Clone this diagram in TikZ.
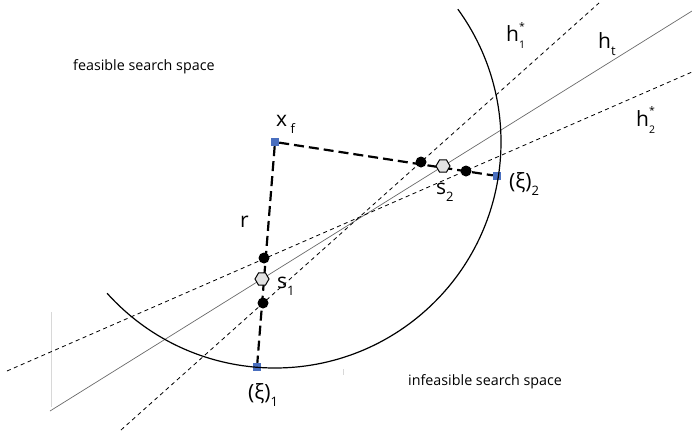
\documentclass[tikz,border=0pt]{standalone}
\usepackage{fontspec}
\setmainfont{Open Sans}
\usetikzlibrary{shapes.geometric}
\definecolor{pointBlue}{HTML}{4A6FBF}
\definecolor{hexGrey}{HTML}{E2E2E2}
\definecolor{lineGrey}{HTML}{6A6A6A}
\definecolor{faintGrey}{HTML}{D8D8D8}
\newcommand{\lowsub}[1]{\raisebox{-0.36em}{\fontsize{13}{13}\selectfont #1}}
\newcommand{\starsub}[1]{\raisebox{-0.36em}{\fontsize{10.5}{10.5}\selectfont\shortstack[l]{*\\[8pt]#1}}}

\begin{document}
\begin{tikzpicture}[
  x=1pt, y=-1pt,
  region/.style={font=\fontsize{14.3}{16}\selectfont, anchor=base west, inner sep=0pt},
  lbl/.style={font=\fontsize{21}{24}\selectfont, anchor=base west, inner sep=0pt},
  bound/.style={line width=1.2pt},
  hyper/.style={line width=0.8pt, dash pattern=on 4pt off 3.5pt},
  trueline/.style={line width=0.7pt, draw=lineGrey},
  ray/.style={line width=2.2pt, dash pattern=on 10pt off 5pt},
  faint/.style={line width=0.7pt, draw=faintGrey},
  sample/.style={rectangle, fill=pointBlue, minimum size=8pt, inner sep=0pt},
  hit/.style={circle, fill=black, minimum size=11pt, inner sep=0pt},
  estimate/.style={regular polygon, regular polygon sides=6, draw, line width=1pt,
    fill=hexGrey, minimum size=14pt, inner sep=0pt},
]
\useasboundingbox (0,0) rectangle (692,437);

\coordinate (htA) at (50,411);
\coordinate (htB) at (692,11);
\coordinate (hA1) at (121,430);
\coordinate (hB1) at (599,3);
\coordinate (hA2) at (7,371);
\coordinate (hB2) at (692,72);

\draw[faint] (51,312) -- (51,407);
\draw[faint] (343,369) -- (343,375);

\draw[trueline] (htA) -- (htB);
\draw[hyper] (hA1) -- (hB1);
\draw[hyper] (hA2) -- (hB2);

\node[sample] (xf)  at (275,142) {};
\node[sample] (xi1) at (257,367) {};
\node[sample] (xi2) at (497,176) {};

% feasible boundary
\draw[bound] (xf.center) ++(138:226) arc[start angle=138, end angle=-36, radius=226];

\draw[ray] (xf) -- (xi1);
\draw[ray] (xf) -- (xi2);

\node[hit] (hitA) at (264,258) {};
\node[hit] (hitB) at (263,303) {};
\node[hit] (hitC) at (421,162) {};
\node[hit] (hitD) at (466,171) {};
\node[estimate] (s1) at (262,279) {};
\node[estimate] (s2) at (443,166) {};

\node[region] (feas)   at (73,70)   {feasible search space};
\node[region] (infeas) at (408,385) {infeasible search space};

\node[lbl] (xfLbl)  at (276,126) {x\,\lowsub{f}};
\node[lbl] (rLbl)   at (240,227) {r};
\node[lbl] (s1Lbl)  at (277,288) {s\lowsub{1}};
\node[lbl] (s2Lbl)  at (436,194) {s\lowsub{2}};
\node[lbl] (xi1Lbl) at (248,399) {(ξ)\lowsub{1}};
\node[lbl] (xi2Lbl) at (509,188) {(ξ)\lowsub{2}};
\node[lbl] (h1Lbl)  at (506,41)  {h\starsub{1}};
\node[lbl] (htLbl)  at (598,48)  {h\lowsub{t}};
\node[lbl] (h2Lbl)  at (636,126) {h\starsub{2}};
\end{tikzpicture}
\end{document}
